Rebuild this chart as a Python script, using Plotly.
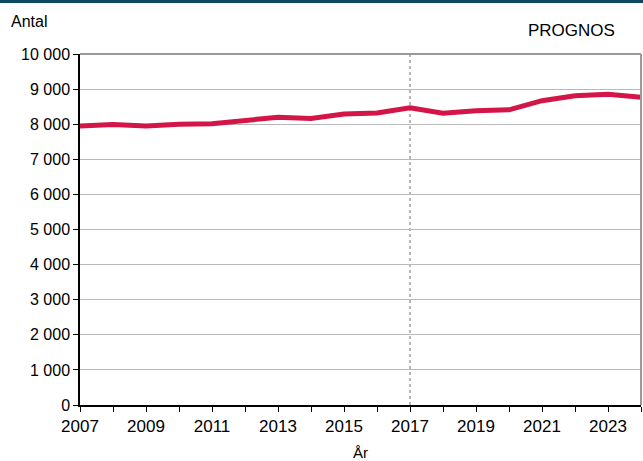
import plotly.graph_objects as go

years = list(range(2007, 2025))
antal = [7950, 7990, 7950, 8000, 8010, 8120, 8200, 8160, 8290, 8320, 8470,
         8310, 8380, 8410, 8670, 8810, 8850, 8770]
y_ticks = [0, 1000, 2000, 3000, 4000, 5000, 6000, 7000, 8000, 9000, 10000]
y_labels = ["0", "1 000", "2 000", "3 000", "4 000", "5 000", "6 000",
            "7 000", "8 000", "9 000", "10 000"]
x_labels = [str(y) if (y - 2007) % 2 == 0 else "" for y in years]
prognos_year = 2017

fig = go.Figure()
fig.add_trace(go.Scatter(x=years, y=antal, mode="lines",
                         line=dict(color="#d31548", width=5), hoverinfo="skip"))

fig.update_layout(
    width=643, height=461,
    margin=dict(l=80, r=2, t=54, b=56),
    paper_bgcolor="white", plot_bgcolor="white",
    showlegend=False,
    font=dict(family="Liberation Sans, Arial, sans-serif", size=16, color="black"),
    xaxis=dict(range=[2007, 2024], tickvals=years, ticktext=x_labels,
               ticks="outside", ticklen=5, tickcolor="black",
               tickfont=dict(size=17),
               showgrid=False, showline=True, linecolor="black", linewidth=1.5,
               zeroline=False,
               title=dict(text="År", font=dict(size=15), standoff=13)),
    yaxis=dict(range=[0, 10000], tickvals=y_ticks, ticktext=y_labels,
               ticks="outside", ticklen=5, tickcolor="black",
               tickfont=dict(size=16),
               showgrid=True, gridcolor="#b8b8b8", gridwidth=1,
               showline=True, linecolor="black", linewidth=1.5,
               zeroline=False),
    shapes=[
        dict(type="line", xref="x", yref="paper", x0=prognos_year, x1=prognos_year,
             y0=0, y1=1, line=dict(color="#a0a0a0", width=1.5, dash="dot"), layer="below"),
        dict(type="line", xref="paper", yref="paper", x0=1, x1=1, y0=0, y1=1,
             line=dict(color="#999999", width=2)),
        dict(type="line", xref="paper", yref="paper", x0=0, x1=1, y0=1, y1=1,
             line=dict(color="#999999", width=2)),
        dict(type="rect", xref="paper", yref="paper", x0=-0.2, x1=1.01,
             y0=1 + 51 / 351, y1=1 + 56 / 351, line=dict(width=0),
             fillcolor="#0b4a63"),
    ],
    annotations=[
        dict(text="Antal", xref="paper", yref="paper", x=-71 / 561, y=1 + 32 / 351,
             xanchor="left", yanchor="middle", showarrow=False, font=dict(size=16)),
        dict(text="PROGNOS", xref="paper", yref="paper", x=1 - 24 / 561, y=1 + 24 / 351,
             xanchor="right", yanchor="middle", showarrow=False, font=dict(size=17)),
    ],
)

fig.write_html("out.html", config={"displayModeBar": False},
               post_script="document.body.style.margin='0';document.body.style.overflow='hidden';")
